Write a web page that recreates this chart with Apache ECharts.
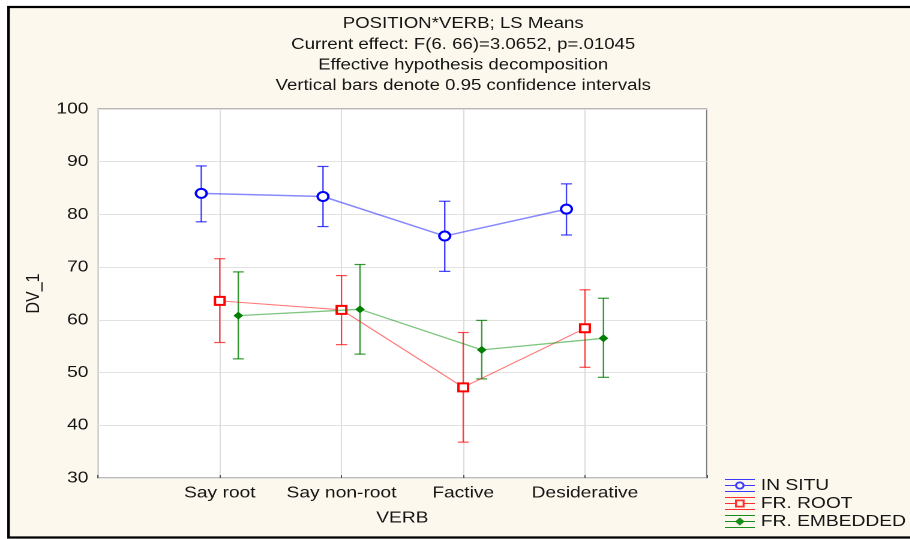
<!DOCTYPE html>
<html>
<head>
<meta charset="utf-8">
<script src="https://cdn.jsdelivr.net/npm/echarts@6/dist/echarts.min.js"></script>
<style>
  html, body { margin: 0; padding: 0; background: #ffffff; overflow: hidden; }
  #wrap { width: 758.333px; height: 539px; transform: scaleX(1.2); transform-origin: 0 0; }
  #chart { width: 758.333px; height: 539px; }
</style>
</head>
<body>
<div id="wrap"><div id="chart"></div></div>
<script>
// ---- data ----
const categories = ['Say root', 'Say non-root', 'Factive', 'Desiderative'];
const yTicks = [30, 40, 50, 60, 70, 80, 90, 100];

const inSituMean = [84.0, 83.4, 75.9, 81.0];
const inSituLow  = [78.6, 77.7, 69.2, 76.1];
const inSituHigh = [89.2, 89.1, 82.5, 85.8];

const frRootMean = [63.6, 61.9, 47.2, 58.4];
const frRootLow  = [55.7, 55.3, 36.8, 51.0];
const frRootHigh = [71.6, 68.4, 57.6, 65.7];

const frEmbMean = [60.8, 62.0, 54.3, 56.5];
const frEmbLow  = [52.6, 53.5, 48.8, 49.1];
const frEmbHigh = [69.1, 70.5, 59.9, 64.1];

const titleLines = [
  'POSITION*VERB; LS Means',
  'Current effect: F(6. 66)=3.0652, p=.01045',
  'Effective hypothesis decomposition',
  'Vertical bars denote 0.95 confidence intervals'
];
const seriesNames = ['IN SITU', 'FR. ROOT', 'FR. EMBEDDED'];

// ---- styling ----
const FONT = '"Liberation Sans", Arial, sans-serif';
const TXT = '#151515';
const groups = [
  { name: seriesNames[0], mean: inSituMean, low: inSituLow, high: inSituHigh, offset: -0.152,
    color: '#0000ff', legendColor: '#3a3aff', line: 'rgba(40,40,255,0.55)', lineW: 1.5, bar: 'rgba(0,0,255,0.75)',
    symbol: 'emptyCircle', size: 9, bw: 2.4,
    icon: 'path://M0 0.5h25v1H0z M0 12.5h25v1H0z M0 6.5h8.5v1H0z M16.5 6.5h8.5v1h-8.5z M8.5 7a4 4 0 1 0 8 0a4 4 0 1 0 -8 0z M10.2 7a2.3 2.3 0 1 1 4.6 0a2.3 2.3 0 1 1 -4.6 0z' },
  { name: seriesNames[1], mean: frRootMean, low: frRootLow, high: frRootHigh, offset: 0,
    color: '#ff0000', legendColor: '#ff3030', line: 'rgba(255,30,30,0.6)', lineW: 1.1, bar: 'rgba(255,0,0,0.7)',
    symbol: 'emptyRect', size: 8, bw: 2,
    icon: 'path://M0 0.5h25v1H0z M0 12.5h25v1H0z M0 6.5h8.5v1H0z M16.5 6.5h8.5v1h-8.5z M8.5 3h8v8h-8z M10.2 4.7v4.6h4.6v-4.6z' },
  { name: seriesNames[2], mean: frEmbMean, low: frEmbLow, high: frEmbHigh, offset: 0.152,
    color: '#008000', legendColor: '#1a8c1a', line: 'rgba(0,140,0,0.5)', lineW: 1.3, bar: 'rgba(0,128,0,0.8)',
    symbol: 'diamond', size: 8, bw: 0,
    icon: 'path://M0 0.5h25v1H0z M0 12.5h25v1H0z M0 6.5h25v1H0z M12.5 3L16.5 7L12.5 11L8.5 7z' }
];

const series = [];
groups.forEach(function (g, gi) {
  // error bars
  series.push({
    type: 'custom',
    name: g.name + ' CI',
    z: 2,
    silent: true,
    data: categories.map(function (c, i) { return [i + 1 + g.offset, g.low[i], g.high[i]]; }),
    renderItem: function (params, api) {
      const lo = api.coord([api.value(0), api.value(1)]);
      const hi = api.coord([api.value(0), api.value(2)]);
      const hw = 4.6;
      const st = { stroke: g.bar, lineWidth: 1.2 };
      return {
        type: 'group',
        children: [
          { type: 'line', shape: { x1: lo[0], y1: lo[1], x2: hi[0], y2: hi[1] }, style: st },
          { type: 'line', shape: { x1: hi[0] - hw, y1: hi[1], x2: hi[0] + hw, y2: hi[1] }, style: st },
          { type: 'line', shape: { x1: lo[0] - hw, y1: lo[1], x2: lo[0] + hw, y2: lo[1] }, style: st }
        ]
      };
    }
  });
  // means
  series.push({
    type: 'line',
    name: g.name,
    z: 3 + gi,
    data: categories.map(function (c, i) { return [i + 1 + g.offset, g.mean[i]]; }),
    symbol: g.symbol,
    symbolSize: g.size,
    showAllSymbol: true,
    itemStyle: { color: g.color, borderColor: g.color, borderWidth: g.bw },
    lineStyle: { color: g.line, width: g.lineW },
    emphasis: { disabled: true },
    animation: false
  });
});

const chart = echarts.init(document.getElementById('chart'), null, { devicePixelRatio: 2 });
chart.setOption({
  animation: false,
  backgroundColor: 'transparent',
  graphic: [{
    type: 'rect', z: -100, silent: true,
    shape: { x: 7.1, y: 7, width: 2000, height: 530.5 },
    style: { fill: '#fdf8ed', stroke: '#000000', lineWidth: 2.2 }
  }],
  title: {
    text: titleLines.join('\n'),
    left: 386,
    top: 13.5,
    padding: 0,
    textAlign: 'center',
    textStyle: { fontFamily: FONT, fontSize: 15.5, fontWeight: 'normal', color: TXT, lineHeight: 20.7 }
  },
  legend: {
    orient: 'vertical',
    left: 604,
    top: 477,
    padding: 0,
    itemWidth: 25,
    itemHeight: 14,
    itemGap: 1,
    selectedMode: false,
    itemStyle: { borderWidth: 0 },
    textStyle: { fontFamily: FONT, fontSize: 16, color: TXT, lineHeight: 17 },
    data: groups.map(function (g) {
      return { name: g.name, icon: g.icon, itemStyle: { color: g.legendColor, borderWidth: 0 } };
    })
  },
  grid: {
    left: 81.7, right: 169.1, top: 109, bottom: 61,
    show: true, backgroundColor: '#ffffff', borderColor: '#777777', borderWidth: 1
  },
  xAxis: {
    type: 'value', min: 0, max: 5, interval: 1,
    name: 'VERB', nameLocation: 'middle', nameGap: 32,
    nameTextStyle: { fontFamily: FONT, fontSize: 16, color: TXT },
    axisLine: { show: false },
    axisTick: { show: true, inside: true, length: 3, lineStyle: { color: '#555' } },
    axisLabel: {
      margin: 7, fontFamily: FONT, fontSize: 16, color: TXT,
      formatter: function (v) { return categories[v - 1] || ''; }
    },
    splitLine: { show: true, lineStyle: { color: '#dcdcdc', width: 1 } }
  },
  yAxis: {
    type: 'value', min: yTicks[0], max: yTicks[yTicks.length - 1], interval: 10,
    name: 'DV_1', nameLocation: 'middle', nameGap: 45,
    nameTextStyle: { fontFamily: FONT, fontSize: 16, color: TXT },
    axisLine: { show: false },
    axisTick: { show: false },
    axisLabel: { margin: 8, fontFamily: FONT, fontSize: 16, color: TXT },
    splitLine: { show: true, lineStyle: { color: '#e2e2e2', width: 1 } }
  },
  series: series
});
</script>
</body>
</html>
